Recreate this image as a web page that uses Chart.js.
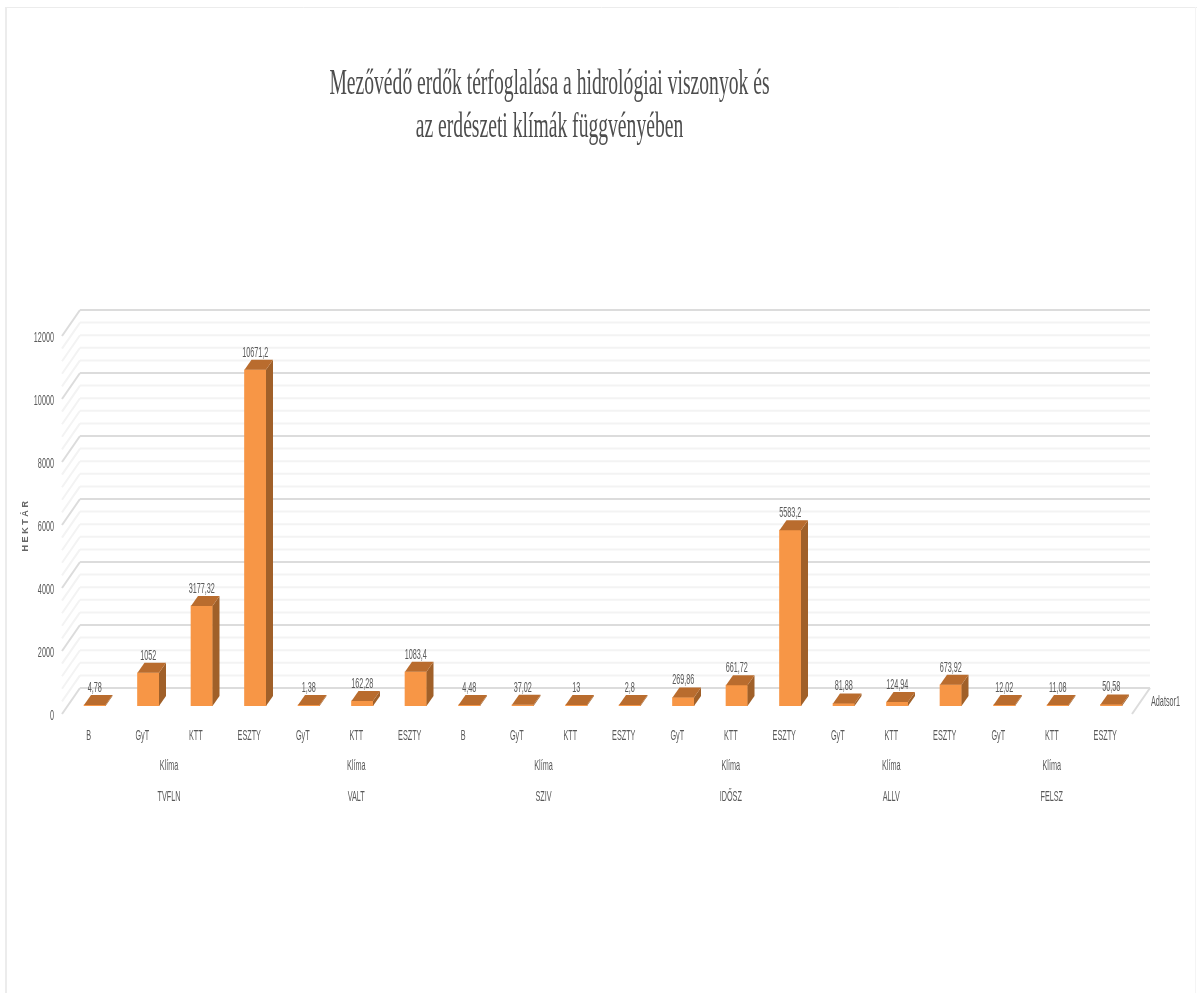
<!DOCTYPE html>
<html lang="hu">
<head>
<meta charset="utf-8">
<title>Mezővédő erdők</title>
<style>
  html, body { margin: 0; background: #fff; }
  canvas { display: block; }
</style>
<script src="https://cdn.jsdelivr.net/npm/chart.js@4/dist/chart.umd.js"></script>
</head>
<body>
<canvas id="chart" width="1197" height="993"></canvas>
<script>
const categories = ['B','GyT','KTT','ESZTY','GyT','KTT','ESZTY','B','GyT','KTT','ESZTY','GyT','KTT','ESZTY','GyT','KTT','ESZTY','GyT','KTT','ESZTY'];
const hectares = [4.78,1052,3177.32,10671.2,1.38,162.28,1083.4,4.48,37.02,13,2.8,269.86,661.72,5583.2,81.88,124.94,673.92,12.02,11.08,50.58];
const groupNames = ['TVFLN','VALT','SZIV','IDŐSZ','ALLV','FELSZ'];
const groupSizes = [4,3,4,3,3,3];
const groupTitle = 'Klíma';
const seriesName = 'Adatsor1';
const yTitle = 'HEKTÁR';
const chartTitle = ['Mezővédő erdők térfoglalása a hidrológiai viszonyok és', 'az erdészeti klímák függvényében'];

const TEXT = '#595959';
const FONT = "'Liberation Sans', sans-serif";

// middle of every group on a 0..20 axis
let seen = 0;
const groupMids = groupSizes.map(n => { seen += n; return seen - n / 2; });

// the reference text is squeezed sideways, so squeeze it here too
const ctx = document.getElementById('chart').getContext('2d');
const rawFill = ctx.fillText.bind(ctx);
ctx.fillText = (text, x, y, maxWidth) => {
  const f = ctx.font;
  const squeeze = f.includes('bold') ? 1 : f.includes('Serif') ? 0.545 : 0.5;
  ctx.save();
  ctx.translate(x, y);
  ctx.scale(squeeze, 1);
  rawFill(text, 0, 0, maxWidth);
  ctx.restore();
};

function line(c, x1, y1, x2, y2) {
  c.beginPath();
  c.moveTo(x1, y1);
  c.lineTo(x2, y2);
  c.stroke();
}

function face(c, color, pts) {
  c.fillStyle = color;
  c.beginPath();
  pts.forEach((p, i) => i ? c.lineTo(p[0], p[1]) : c.moveTo(p[0], p[1]));
  c.closePath();
  c.fill();
}

// walls, bar depth and the labels excel draws in its 3D column chart
const threeD = {
  id: 'threeD',
  afterLayout(chart) {
    // title sits left of the plot centre
    chart.titleBlock.left = 0;
    chart.titleBlock.right = 1099;
  },
  beforeDraw(chart) {
    const c = chart.ctx;
    c.save();
    c.fillStyle = '#fff';
    c.fillRect(0, 0, chart.width, chart.height);
    c.strokeStyle = '#ececec';
    c.lineWidth = 2;
    line(c, 6, 7, 6, chart.height);
    c.lineWidth = 1;
    line(c, 6, 7.5, chart.width, 7.5);
    c.strokeStyle = '#f4f4f4';
    line(c, chart.width - 1.5, 7, chart.width - 1.5, chart.height);
    c.restore();
  },
  beforeDatasetsDraw(chart) {
    const c = chart.ctx, y = chart.scales.y;
    const { left, right, bottom } = chart.chartArea;
    c.save();
    c.lineWidth = 2;
    y.ticks.forEach(t => {
      const py = y.getPixelForValue(t.value);
      c.strokeStyle = t.value % 2000 === 0 ? '#dcdcdc' : '#f3f3f3';
      line(c, left + 12, py - 18, right + 12, py - 18);
      line(c, left - 6, py + 8, left + 12, py - 18);
    });
    c.strokeStyle = '#dcdcdc';
    line(c, right - 6, bottom + 8, right + 12, bottom - 18);
    c.restore();
  },
  afterDatasetsDraw(chart) {
    const c = chart.ctx;
    const { right, bottom } = chart.chartArea;
    c.save();
    chart.getDatasetMeta(0).data.forEach((bar, i) => {
      const l = bar.x - bar.width / 2, r = bar.x + bar.width / 2;
      face(c, '#a06029', [[r, bar.y], [r + 7, bar.y - 10], [r + 7, bar.base - 10], [r, bar.base]]);
      face(c, '#b96c2e', [[l, bar.y], [l + 7, bar.y - 10], [r + 7, bar.y - 10], [r, bar.y]]);
      c.fillStyle = TEXT;
      c.font = '14.5px ' + FONT;
      c.textAlign = 'center';
      c.textBaseline = 'middle';
      c.fillText(String(hectares[i]).replace('.', ','), bar.x, bar.y - 17);
    });
    // series name on the depth axis
    c.fillStyle = TEXT;
    c.font = '14.5px ' + FONT;
    c.textAlign = 'left';
    c.textBaseline = 'middle';
    c.fillText(chart.data.datasets[0].label, right + 13, bottom - 4);
    // axis title, spaced out and not squeezed
    c.translate(26, 525);
    c.rotate(-Math.PI / 2);
    c.fillStyle = '#666';
    c.font = 'bold 9px ' + FONT;
    c.letterSpacing = '2.6px';
    c.textAlign = 'center';
    c.fillText(yTitle, 0, 0);
    c.restore();
  }
};

new Chart(ctx, {
  type: 'bar',
  plugins: [threeD],
  data: {
    labels: categories,
    datasets: [{
      label: seriesName,
      data: hectares,
      backgroundColor: '#f79646',
      barThickness: 21.5,
      minBarLength: 1,
      xAxisID: 'x',
      yAxisID: 'y'
    }]
  },
  options: {
    responsive: false,
    animation: false,
    layout: { padding: { top: 0, left: 0, right: 59, bottom: 160 } },
    plugins: {
      legend: { display: false },
      tooltip: { enabled: false },
      title: {
        display: true,
        text: chartTitle,
        color: '#4d4d4d',
        font: { family: "'Liberation Serif', serif", size: 36, weight: 'normal', lineHeight: 1.2 },
        padding: { top: 63, bottom: 178.6 }
      }
    },
    scales: {
      y: {
        min: 0,
        max: 12000,
        grid: { display: false, drawTicks: false },
        border: { display: false },
        ticks: {
          stepSize: 400,
          autoSkip: false,
          padding: 14,
          labelOffset: 10,
          color: TEXT,
          font: { family: FONT, size: 14.5 },
          callback: v => v % 2000 === 0 ? String(v) : ''
        },
        afterFit: s => { s.width = 68; }
      },
      x: {
        grid: { display: false, drawTicks: false },
        border: { display: false },
        ticks: {
          autoSkip: false,
          maxRotation: 0,
          padding: 21,
          labelOffset: -6,
          color: TEXT,
          font: { family: FONT, size: 14.5 }
        },
        afterFit: s => { s.height = 38; }
      },
      x2: {
        type: 'linear',
        position: 'bottom',
        offset: false,
        min: 0,
        max: categories.length,
        grid: { display: false, drawTicks: false },
        border: { display: false },
        afterBuildTicks: s => { s.ticks = groupMids.map(v => ({ value: v })); },
        ticks: {
          autoSkip: false,
          maxRotation: 0,
          padding: 6.5,
          labelOffset: -6,
          color: TEXT,
          font: { family: FONT, size: 14.5, lineHeight: 2.14 },
          callback: v => [groupTitle, groupNames[groupMids.indexOf(v)]]
        },
        afterFit: s => { s.height = 89; }
      }
    }
  }
});
</script>
</body>
</html>
